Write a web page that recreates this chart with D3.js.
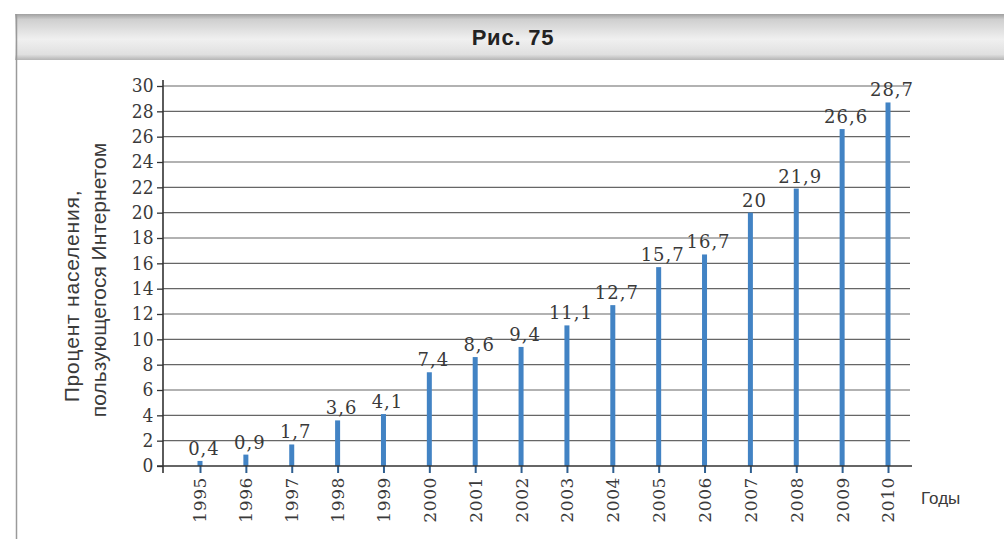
<!DOCTYPE html>
<html><head><meta charset="utf-8">
<script src="https://cdn.jsdelivr.net/npm/d3@7"></script>
<style>body{margin:0;background:#fff}svg{display:block}</style>
</head><body>
<svg id="c" width="1004" height="539"></svg>
<script>
const years = ["1995","1996","1997","1998","1999","2000","2001","2002","2003","2004","2005","2006","2007","2008","2009","2010"];
const values = [0.4,0.9,1.7,3.6,4.1,7.4,8.6,9.4,11.1,12.7,15.7,16.7,20,21.9,26.6,28.7];
const valueLabels = ["0,4","0,9","1,7","3,6","4,1","7,4","8,6","9,4","11,1","12,7","15,7","16,7","20","21,9","26,6","28,7"];
const yTicks = d3.range(0, 31, 2);
const title = "Рис. 75";
const yTitle = ["Процент населения,", "пользующегося Интернетом"];
const xTitle = "Годы";

const svg = d3.select("#c");
const defs = svg.append("defs");
const g1 = defs.append("linearGradient").attr("id","tb").attr("x1",0).attr("y1",0).attr("x2",0).attr("y2",1);
g1.append("stop").attr("offset","0%").attr("stop-color","#a0a0a0");
g1.append("stop").attr("offset","12%").attr("stop-color","#cfcfcf");
g1.append("stop").attr("offset","55%").attr("stop-color","#f0f0f0");
g1.append("stop").attr("offset","88%").attr("stop-color","#e0e0e0");
g1.append("stop").attr("offset","100%").attr("stop-color","#b5b5b5");

// frame
svg.append("rect").attr("x",15).attr("y",14).attr("width",1000).attr("height",46).attr("fill","url(#tb)");
svg.append("line").attr("x1",16.5).attr("x2",16.5).attr("y1",14).attr("y2",539).attr("stroke","#9a9a9a").attr("stroke-width",1.5);
svg.append("text").attr("x",513).attr("y",45).attr("text-anchor","middle")
  .attr("font-family","Liberation Sans, Arial, sans-serif").attr("font-weight","bold").attr("font-size",22)
  .attr("letter-spacing",0.8).attr("fill","#222").text(title);

const x = d3.scalePoint().domain(years).range([200, 888]);
const y = d3.scaleLinear().domain([0, 30]).range([466, 86]);
const axisX0 = 163, gridX1 = 910;

// gridlines
svg.append("g").selectAll("line").data(yTicks.filter(d => d > 0)).join("line")
  .attr("x1", axisX0).attr("x2", gridX1).attr("y1", d => y(d)).attr("y2", d => y(d))
  .attr("stroke", "#666").attr("stroke-width", 1.2);

// y axis
const ya = svg.append("g").attr("transform", `translate(${axisX0},0)`)
  .call(d3.axisLeft(y).tickValues(yTicks).tickSize(6).tickPadding(4).tickFormat(d3.format("d")));
ya.select(".domain").remove();
ya.selectAll(".tick line").attr("stroke","#333").attr("stroke-width",1.3);
ya.selectAll("text").attr("font-family","DejaVu Serif, serif").attr("font-size",18).attr("fill","#3a3a3a")
  .attr("transform","scale(0.95,1)");
svg.append("line").attr("x1",axisX0).attr("x2",axisX0).attr("y1",80).attr("y2",473).attr("stroke","#333").attr("stroke-width",1.6);

// bars
svg.append("g").selectAll("rect").data(values).join("rect")
  .attr("x", (d,i) => x(years[i]) - 2.5).attr("width", 5)
  .attr("y", d => y(d)).attr("height", d => y(0) - y(d))
  .attr("fill", "#4283c4");

// x axis
const xa = svg.append("g").attr("transform", `translate(0,${y(0)})`)
  .call(d3.axisBottom(x).tickSize(7).tickPadding(4));
xa.select(".domain").remove();
xa.selectAll(".tick line").attr("stroke","#2f5f90").attr("stroke-width",2);
xa.selectAll("text").attr("font-family","DejaVu Serif, serif").attr("font-size",17).attr("fill","#3a3a3a")
  .attr("text-anchor","end").attr("transform","translate(0,3) rotate(-90)").attr("x",-8).attr("y",0).attr("dy","0.35em")
  .attr("letter-spacing",0.6);
svg.append("line").attr("x1",157).attr("x2",912).attr("y1",y(0)).attr("y2",y(0)).attr("stroke","#333").attr("stroke-width",1.6);

// value labels
svg.append("g").selectAll("text").data(values).join("text")
  .attr("x", (d,i) => x(years[i]) + 4).attr("y", d => y(d) - 6)
  .attr("text-anchor","middle").attr("font-family","DejaVu Serif, serif").attr("font-size",18)
  .attr("letter-spacing",1).attr("fill","#3a3a3a").text((d,i) => valueLabels[i]);

// axis titles
const yt = svg.append("g").attr("transform","rotate(-90)");
yt.selectAll("text").data(yTitle).join("text")
  .attr("x",(d,i) => i === 0 ? -296 : -280).attr("y",(d,i) => 79 + i*27).attr("text-anchor","middle")
  .attr("font-family","Liberation Sans, Arial, sans-serif").attr("font-size",21).attr("fill","#3a3a3a")
  .attr("letter-spacing",(d,i) => i === 0 ? 0.8 : 0)
  .text(d => d);
svg.append("text").attr("x",921).attr("y",504).attr("font-family","Liberation Sans, Arial, sans-serif")
  .attr("font-size",17).attr("fill","#3a3a3a").text(xTitle);
</script>
</body></html>
